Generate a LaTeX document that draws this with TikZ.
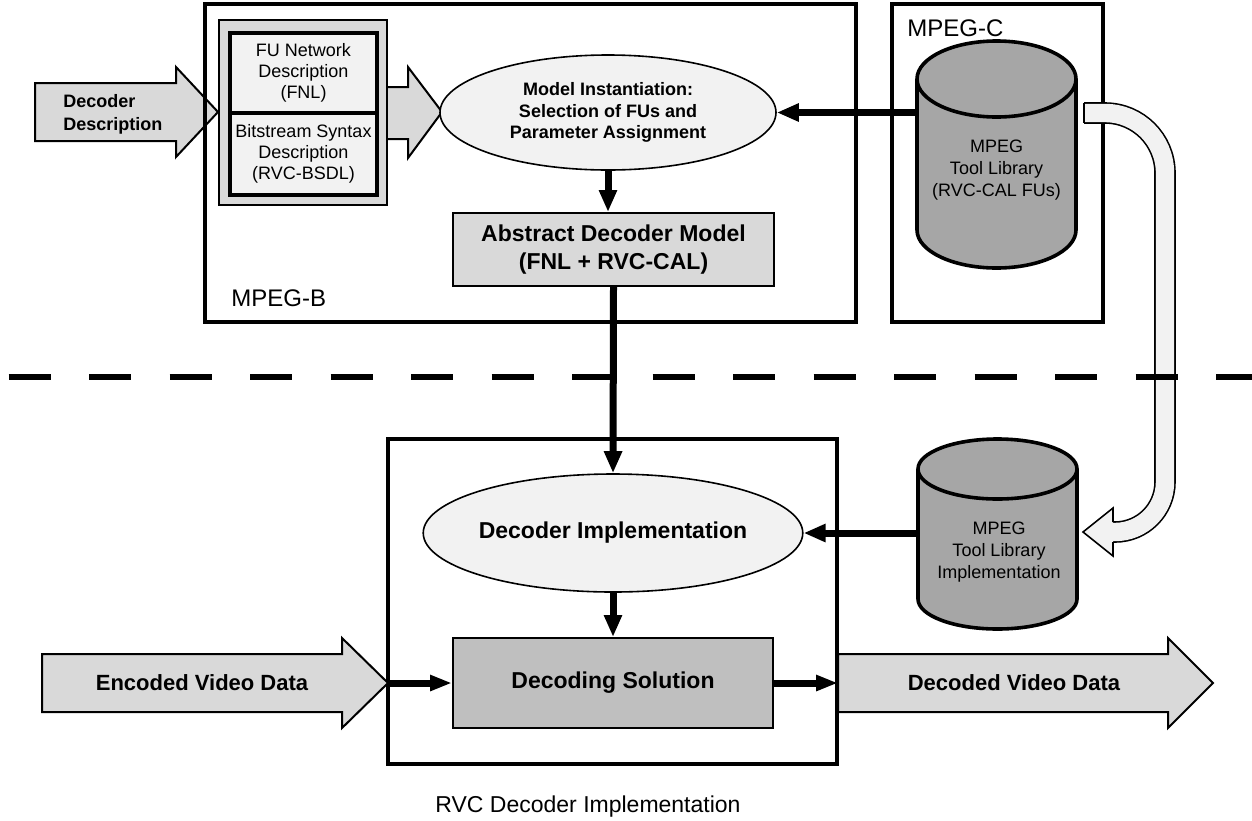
\documentclass[tikz,border=0pt]{standalone}
\usepackage{fontspec}
\setmainfont{Liberation Sans}
\usetikzlibrary{arrows.meta,shapes.geometric}
\definecolor{lightfill}{HTML}{F2F2F2}
\definecolor{midfill}{HTML}{D9D9D9}
\definecolor{darkfill}{HTML}{BFBFBF}
\definecolor{cylfill}{HTML}{A6A6A6}
\begin{document}
\begin{tikzpicture}[x=0.5pt, y=-0.5pt,
  frame/.style={draw, line width=2pt, rectangle, inner sep=0pt},
  conn/.style={line width=3.5pt, -{Triangle[length=11pt,width=8.5pt]}},
  bigarrow/.style={draw, line width=1pt, fill=midfill, line join=miter},
  oval/.style={ellipse, draw, line width=0.8pt, fill=lightfill, inner sep=0pt, align=center},
  greybox/.style={rectangle, draw, line width=1pt, inner sep=0pt, align=center},
  fnlbox/.style={rectangle, draw, line width=1.8pt, fill=lightfill, inner sep=0pt, align=center,
    font=\fontsize{9}{10.5}\selectfont},
  cyl/.style={draw, line width=1.8pt, fill=cylfill, line join=round},
  cyltext/.style={inner sep=0pt, align=center, font=\fontsize{9}{11}\selectfont},
  band/.style={draw=black, line width=0.8pt, double=lightfill, double distance=9.2pt},
  boldtext/.style={font=\bfseries\fontsize{11}{14}\selectfont, align=center},
  tag/.style={font=\fontsize{12}{14}\selectfont, inner sep=0pt}]
\useasboundingbox (0,0) rectangle (1252,820);

% decoder description input
\filldraw[bigarrow] (35,83) -- (176,83) -- (176,67) -- (218,112) -- (176,157) -- (176,141) -- (35,141) -- cycle;
\node[anchor=west, align=left, inner sep=0pt, font=\bfseries\fontsize{9}{11.5}\selectfont] (ddesc) at (63,114) {Decoder\\Description};
\filldraw[bigarrow] (380,87) -- (408,87) -- (408,67) -- (442,112) -- (408,158) -- (408,139) -- (380,139) -- cycle;

% frames
\node[frame, minimum width=325.5pt, minimum height=159pt] (mpegb) at (530.5,163) {};
\node[frame, minimum width=105.5pt, minimum height=159pt] (mpegc) at (997.5,163) {};
\node[frame, minimum width=224.5pt, minimum height=162.5pt] (rvc) at (612.5,601.5) {};

% MPEG-B
\node[rectangle, draw, line width=0.6pt, fill=midfill, minimum width=84pt, minimum height=92.5pt] (fnlgroup) at (303,112.5) {};
\node[fnlbox, minimum width=73.5pt, minimum height=40pt] (fnl) at (303.5,73) {FU Network\\Description\\(FNL)};
\node[fnlbox, minimum width=73.5pt, minimum height=41pt] (bsdl) at (303.5,154) {Bitstream Syntax\\Description\\(RVC-BSDL)};
\node[oval, minimum width=168pt, minimum height=57.5pt, font=\bfseries\fontsize{9}{10.75}\selectfont] (inst) at (608,112.5) {Model Instantiation:\\Selection of FUs and\\Parameter Assignment};
\node[greybox, fill=midfill, minimum width=160.5pt, minimum height=36.5pt, font=\bfseries\fontsize{11.5}{14}\selectfont] (adm) at (613.5,249.5) {Abstract Decoder Model\\(FNL + RVC-CAL)};

% MPEG-C
\filldraw[cyl] (917,79) -- (917,230) arc[start angle=180, end angle=360, x radius=39.75pt, y radius=19pt] -- (1076,79) arc[start angle=0, end angle=180, x radius=39.75pt, y radius=19pt] -- cycle;
\draw[cyl, fill=none] (917,79) arc[start angle=180, end angle=360, x radius=39.75pt, y radius=19pt];
\node[cyltext, minimum width=79.5pt] (tlib) at (996.5,170) {MPEG\\Tool Library\\(RVC-CAL FUs)};

% RVC decoder
\node[oval, minimum width=179pt, minimum height=59pt, font=\bfseries\fontsize{11.5}{14}\selectfont] (dimpl) at (613,533) {Decoder Implementation};
\node[greybox, fill=darkfill, minimum width=160pt, minimum height=45pt, font=\bfseries\fontsize{11.5}{14}\selectfont] (dsol) at (613,683) {Decoding Solution};
\filldraw[cyl] (918,469) -- (918,599) arc[start angle=180, end angle=360, x radius=39.75pt, y radius=15pt] -- (1077,469) arc[start angle=0, end angle=180, x radius=39.75pt, y radius=15pt] -- cycle;
\draw[cyl, fill=none] (918,469) arc[start angle=180, end angle=360, x radius=39.75pt, y radius=15pt];
\node[cyltext, minimum width=79.5pt] (tlibimpl) at (999,552) {MPEG\\Tool Library\\Implementation};

% library hand-over
\coordinate (bandstart) at (1084,113);
\coordinate (bandend) at (1113,532);
\draw[band] (bandstart) [rounded corners=30pt] -- (1165,113) [rounded corners=25pt] -- (1165,532) -- (bandend);
\draw[line width=0.8pt] (1084,103) -- (1084,123);
\filldraw[line width=0.8pt, fill=lightfill, line join=miter] (1113,522) -- (1113,508) -- (1083,532) -- (1113,556) -- (1113,542);

% normative / non-normative
\draw[line width=3pt, dash pattern=on 21pt off 19.25pt] (8.5,377) -- (1252,377);

% video data
\filldraw[bigarrow] (42,654) -- (342,654) -- (342,638) -- (388,683) -- (342,728) -- (342,712) -- (42,712) -- cycle;
\coordinate (enctip) at (388,683);
\node[boldtext] (enc) at (202,683) {Encoded Video Data};
\filldraw[bigarrow] (838,654) -- (1168,654) -- (1168,638) -- (1213,683) -- (1168,728) -- (1168,712) -- (838,712) -- cycle;
\coordinate (dectail) at (838,683);
\node[boldtext] (dec) at (1014,683) {Decoded Video Data};

% connectors
\draw[conn] (inst.south) -- (inst.south |- adm.north);
\draw[conn] (tlib.west |- inst.east) -- (inst.east);
\draw[conn] (adm.south) -- (dimpl.north);
\draw[conn] (tlibimpl.west |- dimpl.east) -- (dimpl.east);
\draw[conn] (dimpl.south) -- (dsol.north);
\draw[conn, -{Triangle[length=11pt,width=7.5pt]}] (enctip) -- (dsol.west);
\draw[conn, -{Triangle[length=11pt,width=7.5pt]}] (dsol.east) -- (dectail);

% labels
\node[tag, anchor=west] (mpegblabel) at (231,298) {MPEG-B};
\node[tag, anchor=west] (mpegclabel) at (907,28) {MPEG-C};
\node[tag, font=\fontsize{11.5}{14}\selectfont] (caption) at (588,807) {RVC Decoder Implementation};
\end{tikzpicture}
\end{document}
